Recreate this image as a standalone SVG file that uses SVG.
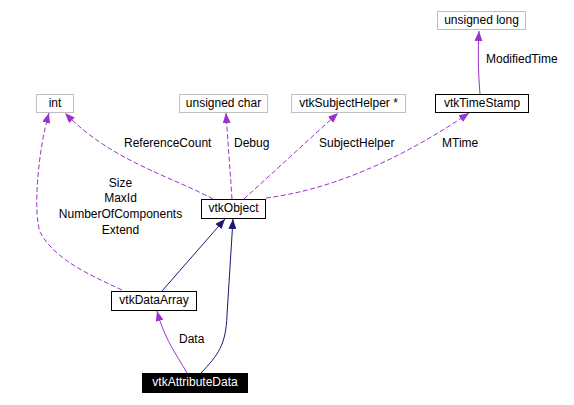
<svg xmlns="http://www.w3.org/2000/svg" width="574" height="405" viewBox="0 0 574 405">
<style>
text{font-family:"Liberation Sans",Arial,sans-serif;font-size:12px;fill:#000}
.n{text-anchor:middle}
.g{fill:#fff;stroke:#bfbfbf;stroke-width:1}
.b{fill:#fff;stroke:#000;stroke-width:1}
.u{fill:none;stroke:#9a32cd;stroke-width:1;stroke-dasharray:5,2.5}
.s{fill:none;stroke:#9a32cd;stroke-width:1}
.i{fill:none;stroke:#191970;stroke-width:1}
</style>
<defs>
<marker id="ap" markerUnits="userSpaceOnUse" markerWidth="11" markerHeight="8" refX="10" refY="4" orient="auto"><path d="M0,0 L10,4 L0,8 z" fill="#9a32cd"/></marker>
<marker id="an" markerUnits="userSpaceOnUse" markerWidth="11" markerHeight="8" refX="10" refY="4" orient="auto"><path d="M0,0 L10,4 L0,8 z" fill="#191970"/></marker>
</defs>
<rect width="574" height="405" fill="#fff"/>
<g id="edges">
<path class="u" d="M213,199 C170,176 110,160 65,113" marker-end="url(#ap)"/>
<path class="u" d="M232,199 L226,113" marker-end="url(#ap)"/>
<path class="u" d="M244,199 L338,113" marker-end="url(#ap)"/>
<path class="u" d="M266,198 C330,190 400,160 469,113" marker-end="url(#ap)"/>
<path class="s" d="M480,94 C478,70 478,50 479,31" marker-end="url(#ap)"/>
<path class="u" d="M122,290 C90,275 55,260 40,232 C33,212 38,150 49,113" marker-end="url(#ap)"/>
<path class="i" d="M162,291 L225,219" marker-end="url(#an)"/>
<path class="i" d="M201,373 C218,355 226,345 227,315 L233,219" marker-end="url(#an)"/>
<path class="s" d="M187,373 C175,352 165,340 157,311" marker-end="url(#ap)"/>
<text x="124" y="147">ReferenceCount</text>
<text x="234" y="147">Debug</text>
<text x="319" y="147">SubjectHelper</text>
<text x="442" y="147">MTime</text>
<text x="486" y="63">ModifiedTime</text>
<text x="179" y="343">Data</text>
<text class="n" x="120.5" y="187">Size</text>
<text class="n" x="120.5" y="202">MaxId</text>
<text class="n" x="120.5" y="218">NumberOfComponents</text>
<text class="n" x="120.5" y="234">Extend</text>
</g>
<g id="int"><rect class="g" x="36.5" y="94.5" width="37" height="18"/><text class="n" x="55" y="107">int</text></g>
<g id="uchar"><rect class="g" x="179.5" y="94.5" width="88" height="18"/><text class="n" x="223.5" y="107">unsigned char</text></g>
<g id="subjecthelper"><rect class="g" x="291.5" y="94.5" width="114" height="18"/><text class="n" x="348.5" y="107">vtkSubjectHelper *</text></g>
<g id="timestamp"><rect class="b" x="435.5" y="94.5" width="93" height="18"/><text class="n" x="482" y="107">vtkTimeStamp</text></g>
<g id="ulong"><rect class="g" x="437.5" y="11.5" width="88" height="18"/><text class="n" x="481.5" y="24">unsigned long</text></g>
<g id="vtkObject"><rect class="b" x="201.5" y="199.5" width="64" height="19"/><text class="n" x="233.5" y="212">vtkObject</text></g>
<g id="vtkDataArray"><rect class="b" x="111.5" y="291.5" width="85" height="19"/><text class="n" x="154" y="304">vtkDataArray</text></g>
<g id="vtkAttributeData"><rect x="142.5" y="373.5" width="105" height="19" fill="#000" stroke="#000"/><text class="n" x="195" y="386" style="fill:#fff">vtkAttributeData</text></g>
</svg>
